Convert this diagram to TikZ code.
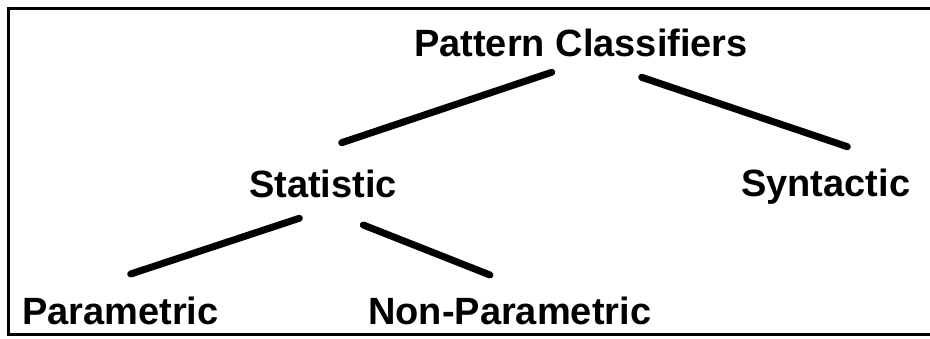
\documentclass[tikz,border=0pt]{standalone}
\usepackage{fontspec}
\setmainfont{Liberation Sans}
\begin{document}
\begin{tikzpicture}[x=1pt,y=-1pt,
  lbl/.style={inner sep=0pt, anchor=base west, font=\fontsize{38}{38}\selectfont\bfseries},
  edge/.style={line width=7pt, line cap=round},
  frame/.style={line width=3pt}]
\useasboundingbox (0,0) rectangle (930,339);
\clip (0,0) rectangle (930,339);
\draw[frame] (8,9) rectangle (945,335);
\node[lbl] (root) at (414,56.5) {Pattern Classifiers};
\node[lbl] (stat) at (249,198) {Statistic};
\node[lbl] (synt) at (741,197) {Syntactic};
\node[lbl] (para) at (22,325) {Parametric};
\node[lbl] (nonp) at (368,325) {Non-Parametric};
\coordinate (r1) at (551.7,72.3);
\coordinate (s1) at (341.7,142.7);
\coordinate (r2) at (641.7,77.3);
\coordinate (y1) at (847.3,146.7);
\coordinate (s2) at (299.3,218.3);
\coordinate (p1) at (130.7,274);
\coordinate (s3) at (363.3,225);
\coordinate (n1) at (490,275);
\draw[edge] (r1) -- (s1);
\draw[edge] (r2) -- (y1);
\draw[edge] (s2) -- (p1);
\draw[edge] (s3) -- (n1);
\end{tikzpicture}
\end{document}
